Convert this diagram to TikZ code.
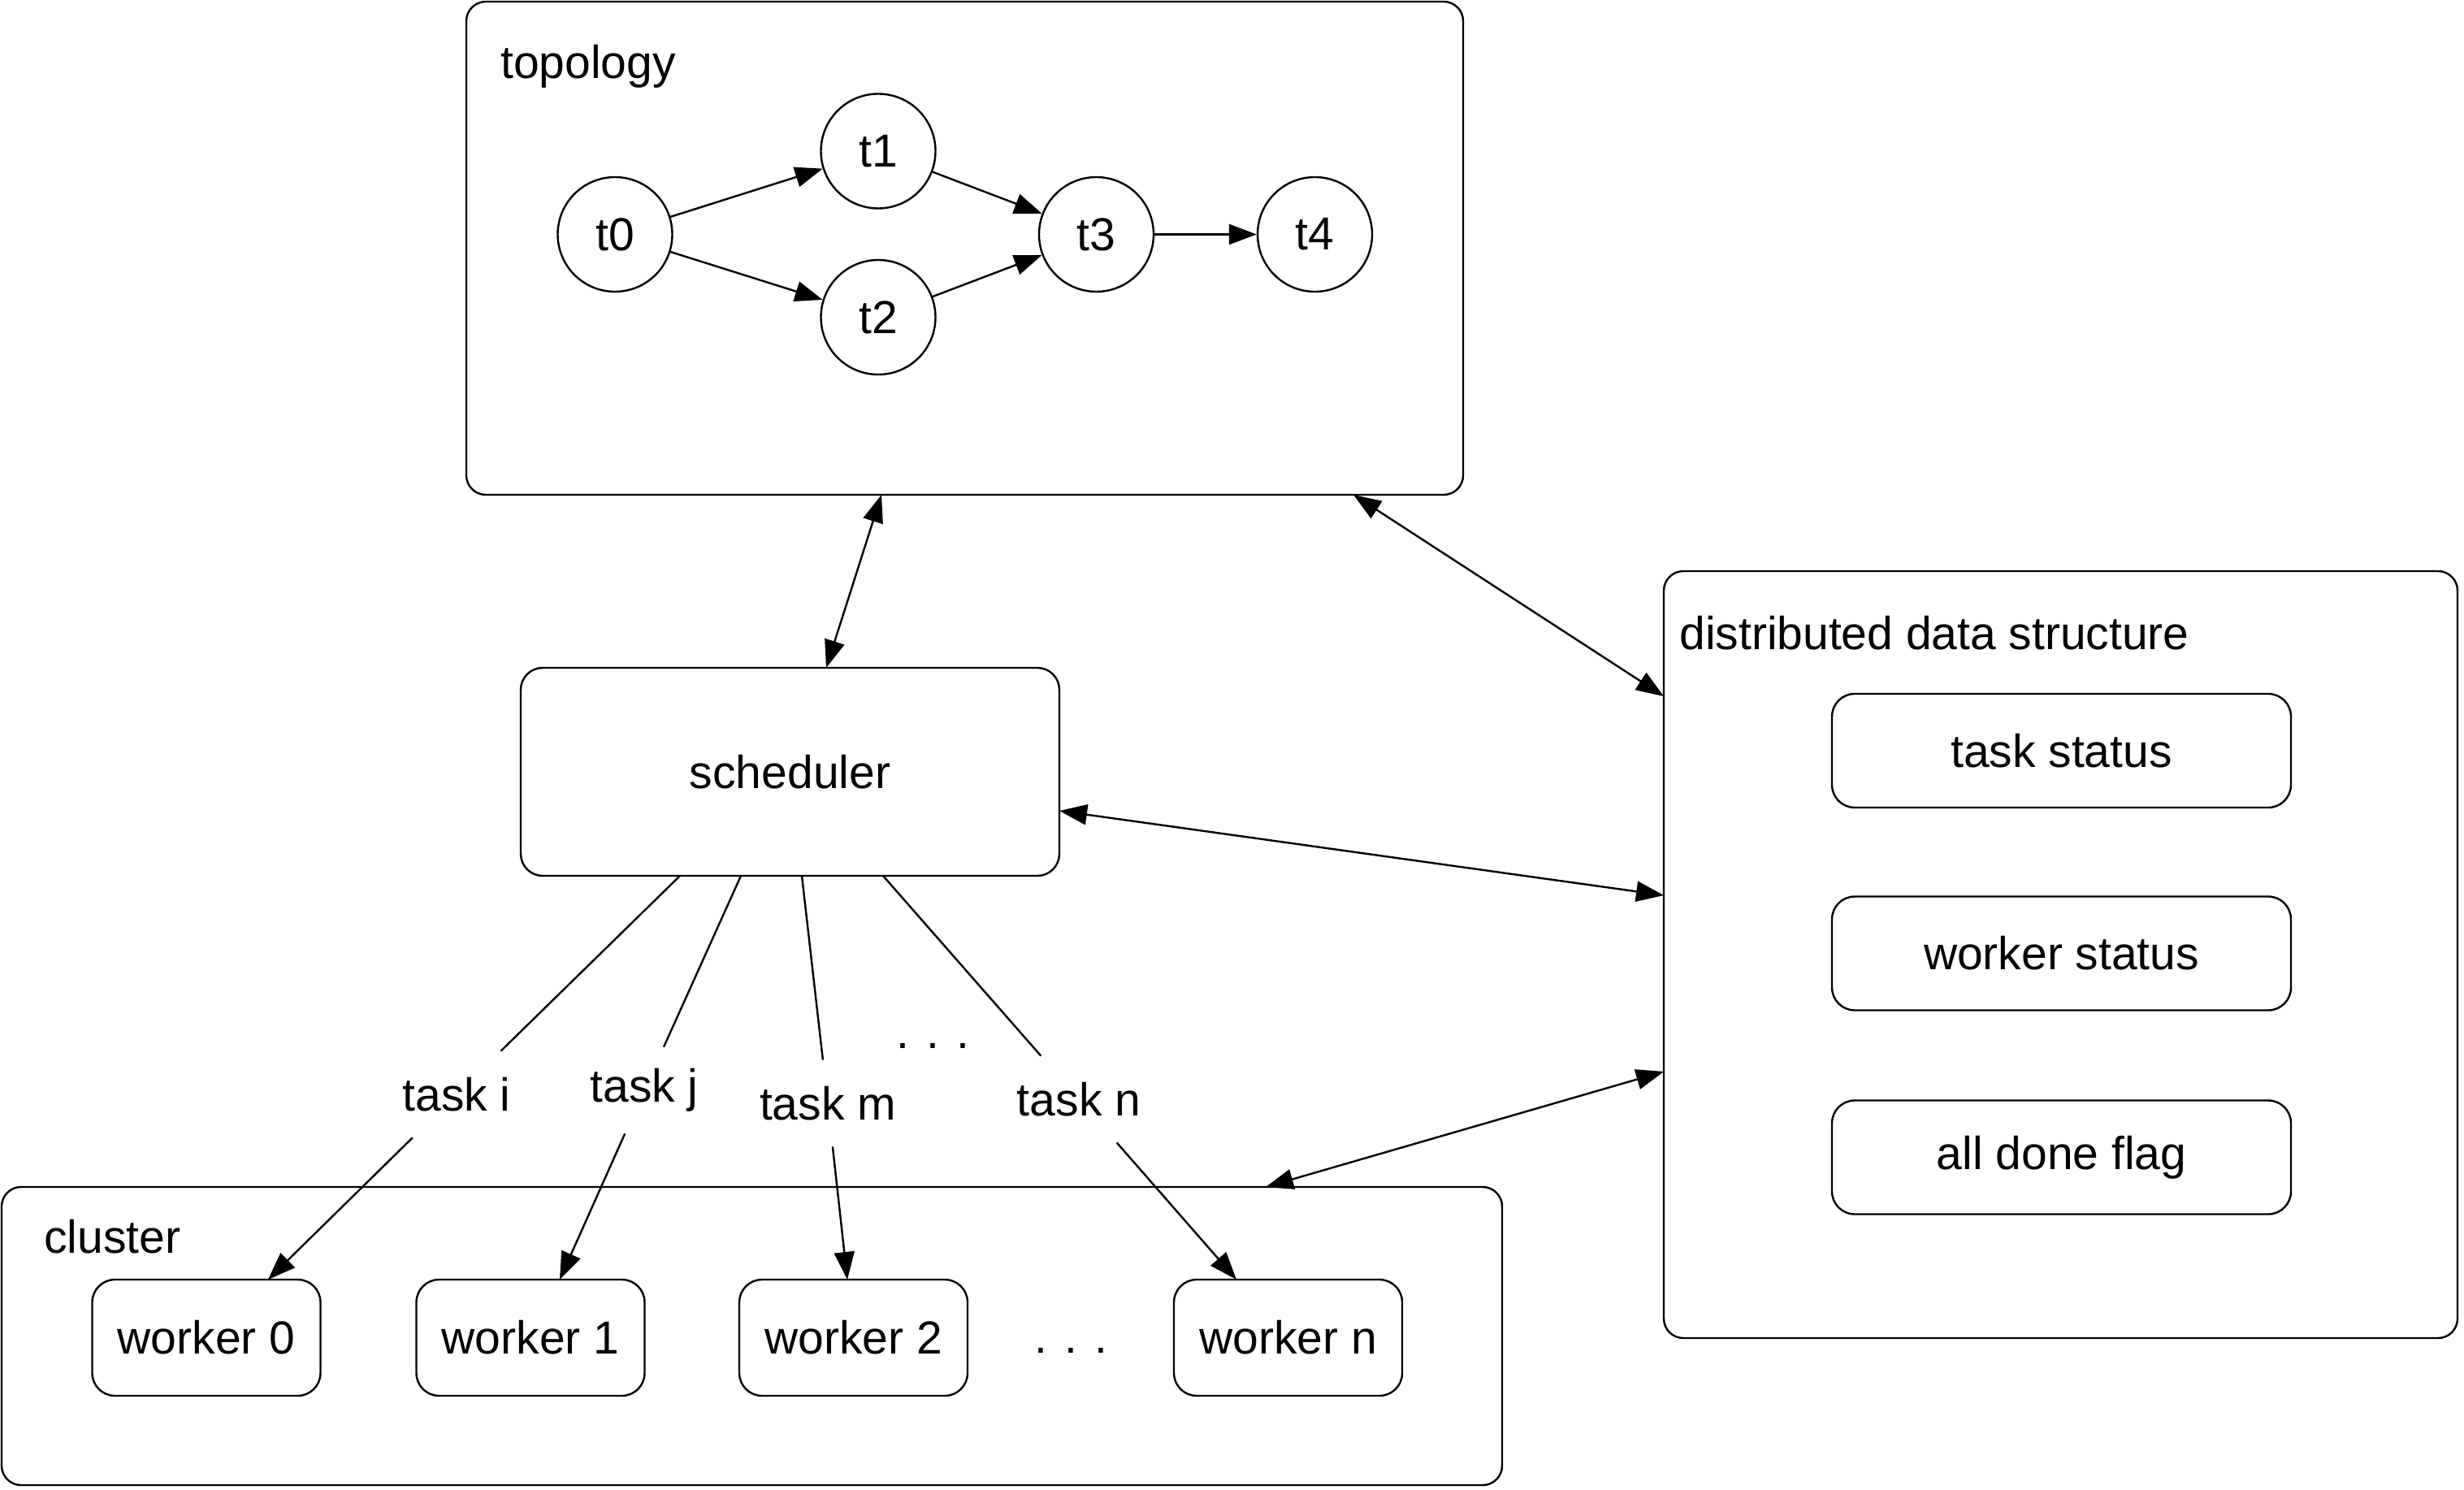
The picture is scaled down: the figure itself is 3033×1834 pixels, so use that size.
\documentclass[tikz,border=0pt]{standalone}
\usepackage{fontspec}
\setmainfont{Liberation Sans}
\usetikzlibrary{arrows.meta}
\begin{document}
\begin{tikzpicture}[x=0.5pt,y=-0.5pt,
  lw/.style={line width=1.2pt},
  every node/.style={font=\fontsize{28.5}{34}\selectfont},
  bigbox/.style={draw, lw, rectangle, rounded corners=12pt, inner sep=0pt},
  smallbox/.style={draw, lw, rectangle, rounded corners=14pt, inner sep=0pt},
  circ/.style={draw, lw, circle, minimum size=70.5pt, inner sep=0pt},
  title/.style={anchor=base west, inner sep=0pt},
  lbl/.style={fill=white, minimum height=53pt, inner xsep=4pt, inner ysep=0pt},
  conn/.style={lw, -{Triangle[length=17pt,width=12.5pt]}},
  plain/.style={lw},
  biconn/.style={lw, {Triangle[length=17pt,width=12.5pt]}-{Triangle[length=17pt,width=12.5pt]}}
]
\useasboundingbox (0,0) rectangle (3033,1834);

% topology
\node[bigbox, minimum width=613.5pt, minimum height=303.5pt] (topo) at (1187.5,305.5) {};
\node[title] (topolbl) at (616,97) {topology};
\node[circ] (t0) at (757,288.5) {t0};
\node[circ] (t1) at (1081,186) {t1};
\node[circ] (t2) at (1081,390.5) {t2};
\node[circ] (t3) at (1349.5,288.5) {t3};
\node[circ] (t4) at (1618.5,288.5) {t4};
\draw[conn] (t0) -- (t1);
\draw[conn] (t0) -- (t2);
\draw[conn] (t1) -- (t3);
\draw[conn] (t2) -- (t3);
\draw[conn] (t3) -- (t4);

% scheduler
\node[bigbox, rounded corners=13.5pt, minimum width=331.5pt, minimum height=128pt] (sched) at (972.5,950) {scheduler};

% distributed data structure
\node[bigbox, minimum width=488.5pt, minimum height=472pt] (dds) at (2536.5,1175) {};
\node[title] (ddslbl) at (2067,799) {distributed data structure};
\node[smallbox, minimum width=282.5pt, minimum height=70pt] (ts) at (2537.5,924) {task status};
\node[smallbox, minimum width=282.5pt, minimum height=70pt] (ws) at (2537.5,1173.5) {worker status};
\node[smallbox, minimum width=282.5pt, minimum height=70pt] (adf) at (2537.5,1424.5) {all done flag};

% cluster
\node[bigbox, minimum width=923.5pt, minimum height=183.5pt] (cl) at (925.5,1644.5) {};
\node[title] (cllbl) at (54,1542) {cluster};
\node[smallbox, minimum width=140.5pt, minimum height=71.5pt] (w0) at (254,1646.5) {worker 0};
\node[smallbox, minimum width=140.5pt, minimum height=71.5pt] (w1) at (653,1646.5) {worker 1};
\node[smallbox, minimum width=140.5pt, minimum height=71.5pt] (w2) at (1050.5,1646.5) {worker 2};
\node[smallbox, minimum width=140.5pt, minimum height=71.5pt] (wn) at (1585.5,1646.5) {worker n};
\node[anchor=base] (dots2) at (1318,1665) {. . .};

% task assignment
\coordinate (s1) at (837,1078);
\coordinate (s2) at (912,1078);
\coordinate (s3) at (987,1078);
\coordinate (s4) at (1087,1078);
\coordinate (e1) at (330,1575);
\coordinate (e2) at (689,1575);
\coordinate (e3) at (1043,1575);
\coordinate (e4) at (1522,1575);
\node[lbl] (ti) at (562,1347) {task i};
\node[lbl] (tj) at (793,1342) {task j};
\node[lbl] (tm) at (1019,1358) {task m};
\node[lbl] (tn) at (1328,1353) {task n};
\node[anchor=base] (dots1) at (1148,1290) {. . .};
\draw[plain] (s1) -- (ti);
\draw[conn] (ti) -- (e1);
\draw[plain] (s2) -- (tj);
\draw[conn] (tj) -- (e2);
\draw[plain] (s3) -- (tm);
\draw[conn] (tm) -- (e3);
\draw[plain] (s4) -- (tn);
\draw[conn] (tn) -- (e4);

% bidirectional links
\coordinate (a1t) at (1085,609);
\coordinate (a1b) at (1017,822);
\coordinate (a2t) at (1666,609);
\coordinate (a2b) at (2048,857);
\coordinate (a3s) at (1304,998);
\coordinate (a3d) at (2048,1102);
\coordinate (a4d) at (2048,1319);
\coordinate (a4c) at (1558,1461);
\draw[biconn] (a1t) -- (a1b);
\draw[biconn] (a2t) -- (a2b);
\draw[biconn] (a3s) -- (a3d);
\draw[biconn] (a4d) -- (a4c);
\end{tikzpicture}
\end{document}
